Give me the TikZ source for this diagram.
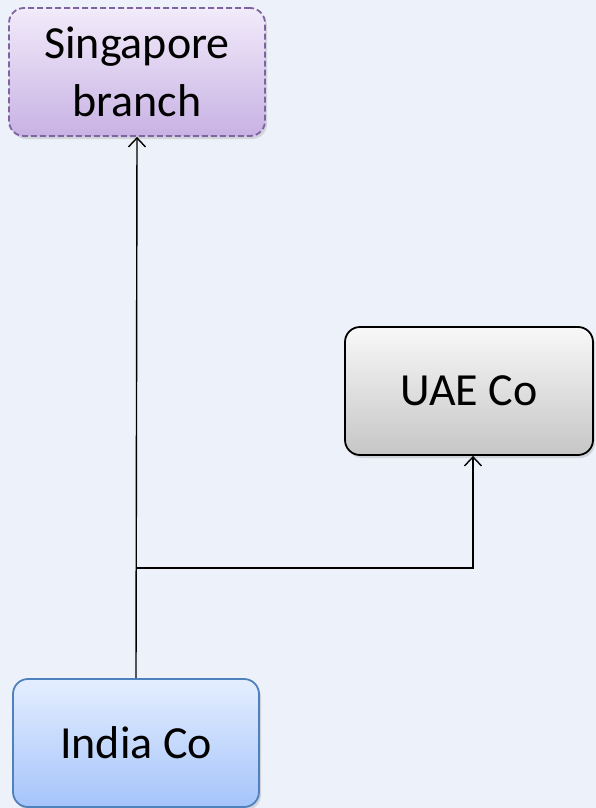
\documentclass[tikz,border=0pt]{standalone}
\usepackage{fontspec}
\setmainfont{Carlito}
\usetikzlibrary{arrows.meta,shadows}
\definecolor{bgc}{RGB}{237,241,250}
\definecolor{sgtop}{RGB}{242,235,250}
\definecolor{sgbot}{RGB}{200,178,228}
\definecolor{sgline}{RGB}{128,100,162}
\definecolor{uaetop}{RGB}{248,248,248}
\definecolor{uaebot}{RGB}{198,198,198}
\definecolor{intop}{RGB}{228,238,255}
\definecolor{inbot}{RGB}{165,196,250}
\definecolor{inline}{RGB}{79,129,189}
\tikzset{
  box/.style={rectangle, rounded corners=15pt, line width=1.8pt, align=center,
    font=\fontsize{46}{58}\selectfont, inner sep=0pt,
    drop shadow={opacity=0.25, shadow xshift=2pt, shadow yshift=-3pt}},
  sgbox/.style={box, draw=sgline, dash pattern=on 6pt off 3pt, top color=sgtop, bottom color=sgbot,
    minimum width=256pt, minimum height=128pt},
  uaebox/.style={box, draw=black, top color=uaetop, bottom color=uaebot,
    minimum width=248pt, minimum height=128pt},
  inbox/.style={box, draw=inline, top color=intop, bottom color=inbot,
    minimum width=246pt, minimum height=128pt},
  conn/.style={line width=1.4pt, -{Straight Barb[length=9pt,width=17pt,line width=1.4pt]}}
}
\begin{document}
\begin{tikzpicture}[x=1pt,y=-1pt]
\fill[bgc] (0,0) rectangle (596,808);
\useasboundingbox (0,0) rectangle (596,808);
\node[sgbox] (sg) at (137,72) {Singapore\\branch};
\node[uaebox] (uae) at (469,391) {UAE Co};
\node[inbox] (in) at (136,743) {India Co};
\coordinate (j) at (136,568);
\draw[conn] (in.north) -- (sg.south);
\draw[conn] (j) -| ([xshift=4pt]uae.south);
\end{tikzpicture}
\end{document}
